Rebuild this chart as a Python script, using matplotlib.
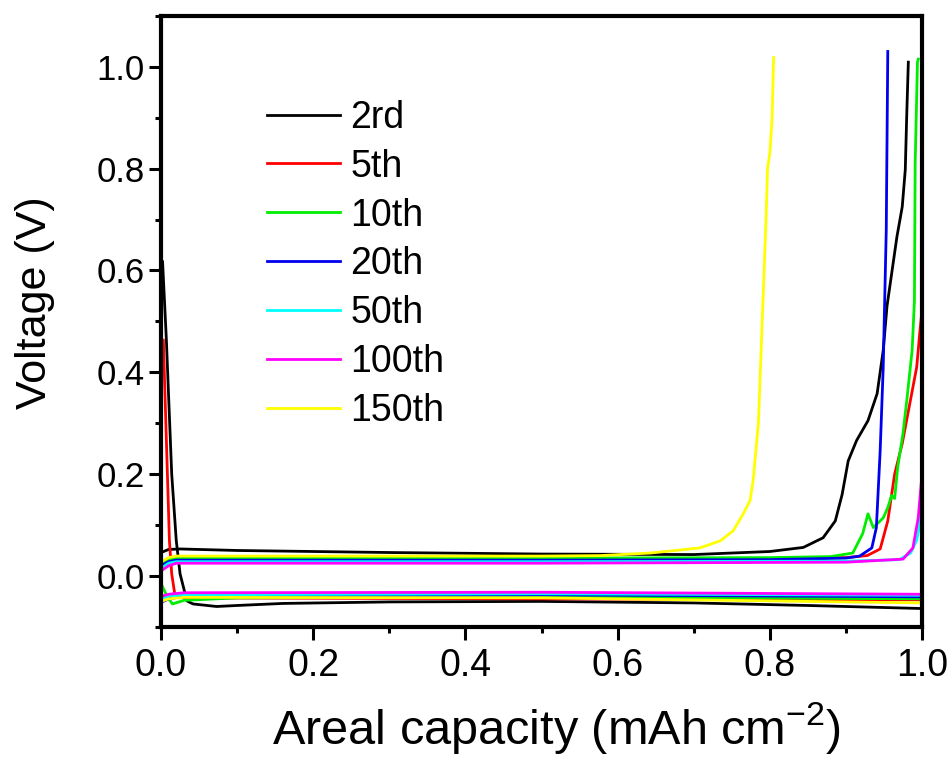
import numpy as np
import matplotlib
matplotlib.use("Agg")
import matplotlib.pyplot as plt
from matplotlib.ticker import MultipleLocator

plt.rcParams['font.family'] = ['Liberation Sans', 'DejaVu Sans']
plt.rcParams['mathtext.fontset'] = 'custom'
plt.rcParams['mathtext.rm'] = 'Liberation Sans'
plt.rcParams['mathtext.it'] = 'Liberation Sans'

labels = ["2rd", "5th", "10th", "20th", "50th", "100th", "150th"]
colors = ["#000000", "#ff0000", "#00ee00", "#0000ee", "#00ffff", "#ff00ff", "#ffff00"]

# charge (upper) curves
chg_2_x = [0, 0.01, 0.025, 0.1, 0.3, 0.5, 0.7, 0.8, 0.844, 0.870, 0.886, 0.895, 0.903, 0.914,
           0.929, 0.941, 0.949, 0.954, 0.967, 0.974, 0.978, 0.980, 0.982]
chg_2_y = [0.046, 0.052, 0.053, 0.05, 0.046, 0.043, 0.042, 0.048, 0.056, 0.075, 0.108, 0.16,
           0.226, 0.266, 0.305, 0.358, 0.443, 0.53, 0.666, 0.725, 0.798, 0.91, 1.009]
chg_5_x = [0, 0.01, 0.02, 0.2, 0.5, 0.8, 0.9, 0.928, 0.945, 0.955, 0.964, 0.974, 0.984, 0.993, 0.997, 1.0]
chg_5_y = [0.02, 0.028, 0.032, 0.033, 0.033, 0.034, 0.036, 0.04, 0.053, 0.108, 0.2, 0.26, 0.339, 0.41, 0.477, 0.522]
chg_10_x = [0, 0.01, 0.02, 0.2, 0.5, 0.8, 0.88, 0.909, 0.922, 0.929, 0.936, 0.949, 0.955, 0.960,
            0.964, 0.968, 0.975, 0.98, 0.987, 0.99, 0.991, 0.994, 0.995]
chg_10_y = [0.025, 0.032, 0.036, 0.036, 0.035, 0.036, 0.038, 0.045, 0.083, 0.122, 0.095, 0.114,
            0.134, 0.158, 0.152, 0.213, 0.28, 0.345, 0.443, 0.54, 0.81, 1.009, 1.015]
chg_20_x = [0, 0.01, 0.02, 0.2, 0.5, 0.8, 0.9, 0.918, 0.934, 0.940, 0.945, 0.949, 0.953, 0.955]
chg_20_y = [0.02, 0.028, 0.031, 0.031, 0.031, 0.032, 0.035, 0.039, 0.055, 0.095, 0.246, 0.41, 0.68, 1.03]
chg_50_x = [0, 0.01, 0.02, 0.5, 0.9, 0.97, 0.985, 0.993, 0.998, 1.0]
chg_50_y = [0.015, 0.025, 0.028, 0.028, 0.029, 0.032, 0.045, 0.07, 0.11, 0.134]
chg_100_x = [0, 0.01, 0.02, 0.5, 0.9, 0.975, 0.988, 0.995, 1.0]
chg_100_y = [0.01, 0.02, 0.025, 0.025, 0.027, 0.033, 0.055, 0.114, 0.2]
chg_150_x = [0, 0.01, 0.02, 0.3, 0.5, 0.577, 0.643, 0.708, 0.735, 0.752, 0.765, 0.774, 0.778,
             0.785, 0.79, 0.795, 0.797, 0.80, 0.803, 0.805]
chg_150_y = [0.028, 0.036, 0.039, 0.039, 0.039, 0.04, 0.045, 0.055, 0.069, 0.089, 0.122, 0.148,
             0.187, 0.3, 0.5, 0.7, 0.8, 0.83, 0.9, 1.018]

# discharge (lower) curves
dis_2_x = [0.002, 0.007, 0.014, 0.02, 0.025, 0.034, 0.042, 0.073, 0.1, 0.16, 0.3, 0.5, 0.7, 0.85, 1.0]
dis_2_y = [0.617, 0.463, 0.2, 0.069, 0.004, -0.049, -0.055, -0.06, -0.058, -0.054, -0.051, -0.05,
           -0.053, -0.058, -0.064]
dis_5_x = [0.003, 0.007, 0.011, 0.014, 0.018, 0.03, 0.5, 1.0]
dis_5_y = [0.463, 0.266, 0.069, 0.004, -0.035, -0.043, -0.045, -0.047]
dis_10_x = [0, 0.008, 0.015, 0.03, 0.1, 0.5, 1.0]
dis_10_y = [-0.015, -0.04, -0.055, -0.048, -0.043, -0.041, -0.045]
dis_20_x = [0, 0.01, 0.03, 0.5, 1.0]
dis_20_y = [-0.052, -0.045, -0.04, -0.037, -0.041]
dis_50_x = [0, 0.01, 0.03, 0.5, 1.0]
dis_50_y = [-0.045, -0.04, -0.037, -0.035, -0.038]
dis_100_x = [0, 0.01, 0.03, 0.5, 1.0]
dis_100_y = [-0.04, -0.036, -0.033, -0.032, -0.036]
dis_150_x = [0, 0.01, 0.03, 0.5, 1.0]
dis_150_y = [-0.05, -0.045, -0.042, -0.043, -0.053]

charge = [(chg_2_x, chg_2_y), (chg_5_x, chg_5_y), (chg_10_x, chg_10_y), (chg_20_x, chg_20_y),
          (chg_50_x, chg_50_y), (chg_100_x, chg_100_y), (chg_150_x, chg_150_y)]
discharge = [(dis_2_x, dis_2_y), (dis_5_x, dis_5_y), (dis_10_x, dis_10_y), (dis_20_x, dis_20_y),
             (dis_50_x, dis_50_y), (dis_100_x, dis_100_y), (dis_150_x, dis_150_y)]

fig = plt.figure(figsize=(9.53, 7.72), dpi=100)
ax = fig.add_axes([0.169, 0.188, 0.7985, 0.7915])

for (cx, cy), (dx, dy), lab, col in zip(charge, discharge, labels, colors):
    ax.plot(dx, dy, color=col, lw=2.0)
    ax.plot(cx, cy, color=col, lw=2.0, label=lab)

ax.set_xlim(0, 1.0)
ax.set_ylim(-0.1, 1.1)
ax.xaxis.set_major_locator(MultipleLocator(0.2))
ax.xaxis.set_minor_locator(MultipleLocator(0.1))
ax.yaxis.set_major_locator(MultipleLocator(0.2))
ax.yaxis.set_minor_locator(MultipleLocator(0.1))
ax.set_yticks([0.0, 0.2, 0.4, 0.6, 0.8, 1.0])
ax.tick_params(which='major', direction='out', length=9, width=2.2, pad=6)
ax.tick_params(which='minor', direction='out', length=4.5, width=2.2)
ax.tick_params(axis='x', labelsize=27)
ax.tick_params(axis='y', labelsize=25, pad=3)
for s in ax.spines.values():
    s.set_linewidth(3)

ax.set_xlabel("Areal capacity (mAh cm$^{-2}$)", fontsize=35, labelpad=12)
ax.xaxis.label.set_x(0.52)
ax.set_ylabel("Voltage (V)", fontsize=31)
ax.yaxis.set_label_coords(-0.14, 0.53)

ax.legend(loc='upper left', bbox_to_anchor=(0.095, 0.918), frameon=False, fontsize=27,
          handlelength=1.95, labelspacing=0.345, handletextpad=0.27)

fig.savefig("out.png", dpi=100)
